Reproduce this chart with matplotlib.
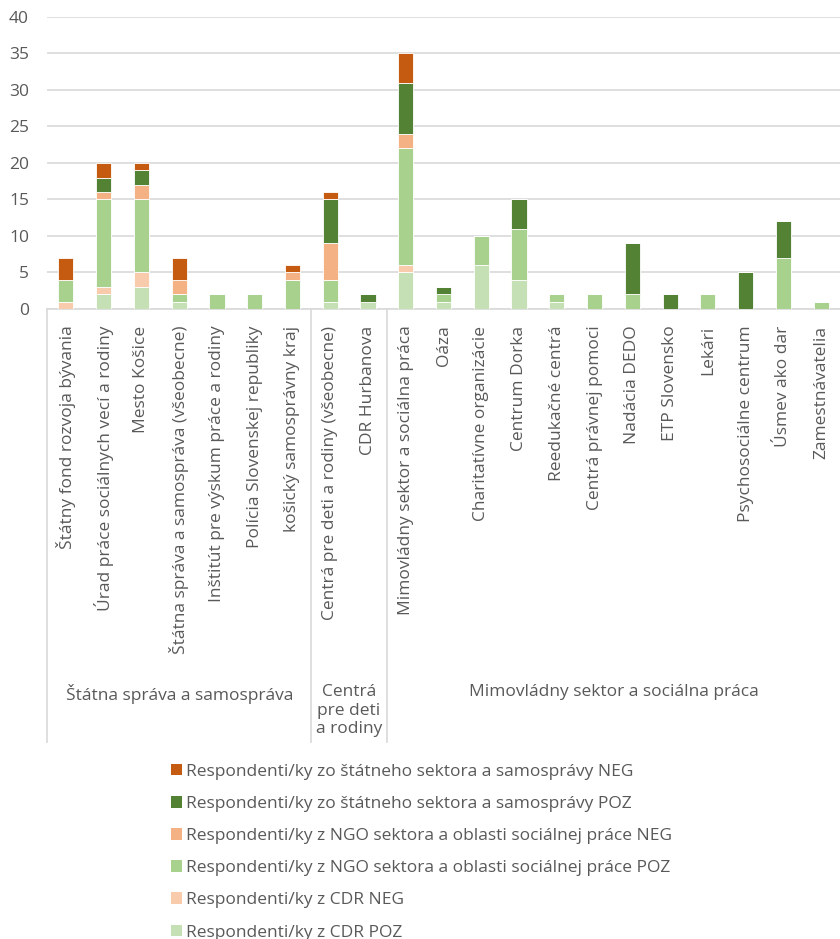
import numpy as np
import matplotlib
matplotlib.use("Agg")
import matplotlib.pyplot as plt
from matplotlib.patches import Patch

# categories (x axis, lower level)
categories = [
    "Štátny fond rozvoja bývania",
    "Úrad práce sociálnych vecí a rodiny",
    "Mesto Košice",
    "Štátna správa a samospráva (všeobecne)",
    "Inštitút pre výskum práce a rodiny",
    "Polícia Slovenskej republiky",
    "košický samosprávny kraj",
    "Centrá pre deti a rodiny (všeobecne)",
    "CDR Hurbanova",
    "Mimovládny sektor a sociálna práca",
    "Oáza",
    "Charitatívne organizácie",
    "Centrum Dorka",
    "Reedukačné centrá",
    "Centrá právnej pomoci",
    "Nadácia DEDO",
    "ETP Slovensko",
    "Lekári",
    "Psychosociálne centrum",
    "Úsmev ako dar",
    "Zamestnávatelia",
]

# groups (x axis, upper level): label, number of categories
group_labels = ["Štátna správa a samospráva", "Centrá\npre deti\na rodiny",
                "Mimovládny sektor a sociálna práca"]
group_sizes = [7, 2, 12]

# series, bottom to top
cdr_poz = [0, 2, 3, 1, 0, 0, 0, 1, 1, 5, 1, 6, 4, 1, 0, 0, 0, 0, 0, 0, 0]
cdr_neg = [1, 1, 2, 0, 0, 0, 0, 0, 0, 1, 0, 0, 0, 0, 0, 0, 0, 0, 0, 0, 0]
ngo_poz = [3, 12, 10, 1, 2, 2, 4, 3, 0, 16, 1, 4, 7, 1, 2, 2, 0, 2, 0, 7, 1]
ngo_neg = [0, 1, 2, 2, 0, 0, 1, 5, 0, 2, 0, 0, 0, 0, 0, 0, 0, 0, 0, 0, 0]
state_poz = [0, 2, 2, 0, 0, 0, 0, 6, 1, 7, 1, 0, 4, 0, 0, 7, 2, 0, 5, 5, 0]
state_neg = [3, 2, 1, 3, 0, 0, 1, 1, 0, 4, 0, 0, 0, 0, 0, 0, 0, 0, 0, 0, 0]

series_names = [
    "Respondenti/ky z CDR POZ",
    "Respondenti/ky z CDR NEG",
    "Respondenti/ky z NGO sektora a oblasti sociálnej práce POZ",
    "Respondenti/ky z NGO sektora a oblasti sociálnej práce NEG",
    "Respondenti/ky zo štátneho sektora a samosprávy POZ",
    "Respondenti/ky zo štátneho sektora a samosprávy NEG",
]
series_colors = ["#C5E0B4", "#F8CBAD", "#A9D18E", "#F4B183", "#548235", "#C55A11"]

TXT = "#595959"
GRID = "#D9D9D9"
FONT = "Open Sans"
FS = 12.5

plt.rcParams["font.family"] = [FONT, "DejaVu Sans"]

fig = plt.figure(figsize=(8.4, 9.39), dpi=100)
ax = fig.add_axes([0.056, 0.671, 0.944, 0.311])

x = np.arange(len(categories))
bottom = np.zeros(len(categories))
series = [cdr_poz, cdr_neg, ngo_poz, ngo_neg, state_poz, state_neg]
for vals, name, col in zip(series, series_names, series_colors):
    vals = np.array(vals, dtype=float)
    ax.bar(x, vals, 0.4, bottom=bottom, color=col, edgecolor="white",
           linewidth=0.6, label=name, zorder=3)
    bottom += vals

ax.set_xlim(-0.5, len(categories) - 0.5)
ax.set_ylim(0, 40)
ax.set_yticks(range(0, 41, 5))
ax.yaxis.grid(True, color=GRID, linewidth=1.2, zorder=0)
ax.tick_params(axis="y", length=0, labelsize=FS, labelcolor=TXT, pad=13)
for s in ["top", "right", "left"]:
    ax.spines[s].set_visible(False)
ax.spines["bottom"].set_color(GRID)
ax.spines["bottom"].set_linewidth(1.2)

ax.set_xticks(x)
ax.set_xticklabels(categories, rotation=90, fontsize=FS, color=TXT)
ax.tick_params(axis="x", length=0, pad=12)

# group separators and group labels
trans = ax.get_xaxis_transform()
sep_bottom = -1.483
edges = np.concatenate([[0], np.cumsum(group_sizes)]) - 0.5
for e in edges[:-1]:
    ax.plot([e, e], [0, sep_bottom], color=GRID, linewidth=1.2,
            transform=trans, clip_on=False)
for i, lab in enumerate(group_labels):
    cx = (edges[i] + edges[i + 1]) / 2
    ax.text(cx, -1.285, lab, transform=trans, ha="center", va="top",
            fontsize=FS, color=TXT, linespacing=1.2)

handles = [Patch(facecolor=c, edgecolor="none") for c in series_colors][::-1]
fig.legend(handles, series_names[::-1], loc="upper left",
           bbox_to_anchor=(0.195, 0.194), frameon=False, fontsize=FS,
           labelcolor=TXT, handlelength=0.65, handleheight=0.65,
           handletextpad=0.25, labelspacing=0.93, borderaxespad=0)

fig.savefig("out.png", dpi=100)
